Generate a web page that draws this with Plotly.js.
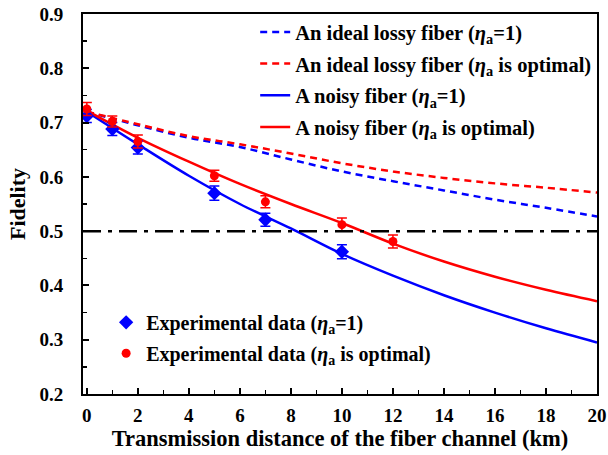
<!DOCTYPE html>
<html>
<head>
<meta charset="utf-8">
<script src="https://cdn.plot.ly/plotly-3.0.1.min.js"></script>
<style>html,body{margin:0;padding:0;background:#fff;}#chart{width:608px;height:455px;}</style>
</head>
<body>
<div id="chart"></div>
<script>
// Curves
const curveX = [0, 2, 4, 6, 8, 10, 12, 14, 16, 18, 20];
const idealBlue = [0.720, 0.695, 0.672, 0.655, 0.632, 0.610, 0.592, 0.575, 0.558, 0.543, 0.527];
const idealRed  = [0.720, 0.697, 0.675, 0.660, 0.643, 0.625, 0.610, 0.598, 0.588, 0.580, 0.571];
const noisyBlue = [0.720, 0.660, 0.602, 0.550, 0.505, 0.458, 0.418, 0.382, 0.350, 0.321, 0.295];
const noisyRed  = [0.722, 0.672, 0.628, 0.587, 0.550, 0.515, 0.477, 0.444, 0.416, 0.392, 0.371];

// Experimental data
const expBlueX = [0, 1, 2, 5, 7, 10];
const expBlueY = [0.712, 0.688, 0.654, 0.570, 0.521, 0.462];
const expBlueErr = [0.012, 0.012, 0.012, 0.013, 0.012, 0.013];
const expRedX = [0, 1, 2, 5, 7, 10, 12];
const expRedY = [0.725, 0.702, 0.665, 0.602, 0.554, 0.512, 0.481];
const expRedErr = [0.012, 0.010, 0.012, 0.010, 0.011, 0.012, 0.012];

const threshold = 0.5;

const names = [
  'An ideal lossy fiber (<i>η</i><sub>a</sub>=1)',
  'An ideal lossy fiber (<i>η</i><sub>a</sub> is optimal)',
  'A noisy fiber (<i>η</i><sub>a</sub>=1)',
  'A noisy fiber (<i>η</i><sub>a</sub> is optimal)',
  'Experimental data (<i>η</i><sub>a</sub>=1)',
  'Experimental data (<i>η</i><sub>a</sub> is optimal)'
];
const BLUE = '#0000ff', RED = '#ff0000';
const DASH = '7px,5px';

const traces = [
  {x: curveX, y: idealBlue, mode: 'lines', name: names[0], legendgroup: 'a', line: {color: BLUE, width: 2.5, dash: DASH, shape: 'spline'}},
  {x: curveX, y: idealRed, mode: 'lines', name: names[1], legendgroup: 'b', line: {color: RED, width: 2.5, dash: DASH, shape: 'spline'}},
  {x: curveX, y: noisyBlue, mode: 'lines', name: names[2], legendgroup: 'c', line: {color: BLUE, width: 2.5, shape: 'spline'}},
  {x: curveX, y: noisyRed, mode: 'lines', name: names[3], legendgroup: 'd', line: {color: RED, width: 2.5, shape: 'spline'}},
  {x: expBlueX, y: expBlueY, mode: 'markers', name: names[4], legend: 'legend2', legendgroup: 'e',
   marker: {symbol: 'diamond', size: 11, color: BLUE},
   error_y: {type: 'data', array: expBlueErr, color: BLUE, thickness: 1.5, width: 5}},
  {x: expRedX, y: expRedY, mode: 'markers', name: names[5], legend: 'legend2', legendgroup: 'f',
   marker: {symbol: 'circle', size: 9, color: RED},
   error_y: {type: 'data', array: expRedErr, color: RED, thickness: 1.5, width: 5}}
];

const FAM = 'Liberation Serif, Times New Roman, serif';
const font = {family: FAM, size: 20, color: '#000', weight: 700};

const layout = {
  width: 608, height: 455,
  margin: {l: 83, r: 11, t: 14, b: 61},
  paper_bgcolor: '#fff', plot_bgcolor: '#fff',
  font: font,
  showlegend: true,
  xaxis: {
    range: [-0.15, 20], tickvals: [0,2,4,6,8,10,12,14,16,18,20],
    ticks: 'inside', ticklen: 6, tickwidth: 2, tickcolor: '#000',
    minor: {dtick: 1, ticks: 'inside', ticklen: 4, tickwidth: 1.5, tickcolor: '#000'},
    showline: true, linewidth: 2, linecolor: '#000', mirror: true,
    showgrid: false, zeroline: false, ticklabelstandoff: 3,
    tickfont: {family: FAM, size: 19, weight: 700, color: '#000'},
    title: {text: 'Transmission distance of the fiber channel (km)', font: {family: FAM, size: 22.5, weight: 700, color: '#000'}, standoff: 5}
  },
  yaxis: {
    range: [0.2, 0.9], dtick: 0.1, tick0: 0.2, tickformat: '.1f',
    ticks: 'inside', ticklen: 6, tickwidth: 2, tickcolor: '#000',
    minor: {dtick: 0.05, ticks: 'inside', ticklen: 4, tickwidth: 1.5, tickcolor: '#000'},
    showline: true, linewidth: 2, linecolor: '#000', mirror: true,
    showgrid: false, zeroline: false, ticklabelstandoff: 14,
    tickfont: {family: FAM, size: 19, weight: 700, color: '#000'},
    title: {text: 'Fidelity', font: {family: FAM, size: 22, weight: 700, color: '#000'}, standoff: 8}
  },
  shapes: [{type: 'line', xref: 'paper', x0: 0, x1: 1, yref: 'y', y0: threshold, y1: threshold,
            line: {color: '#000', width: 2.5, dash: '18px,7px,4px,7px'}}],
  legend: {x: 0.335, y: 1.005, xanchor: 'left', yanchor: 'top', bgcolor: 'rgba(0,0,0,0)',
           tracegroupgap: 2, font: {family: FAM, size: 20.5, weight: 700, color: '#000'}},
  legend2: {x: 0.045, y: 0.24, xanchor: 'left', yanchor: 'top', bgcolor: 'rgba(0,0,0,0)',
            tracegroupgap: 2, font: {family: FAM, size: 20, weight: 700, color: '#000'}}
};

Plotly.newPlot('chart', traces, layout, {displayModeBar: false, staticPlot: true});
</script>
</body>
</html>
